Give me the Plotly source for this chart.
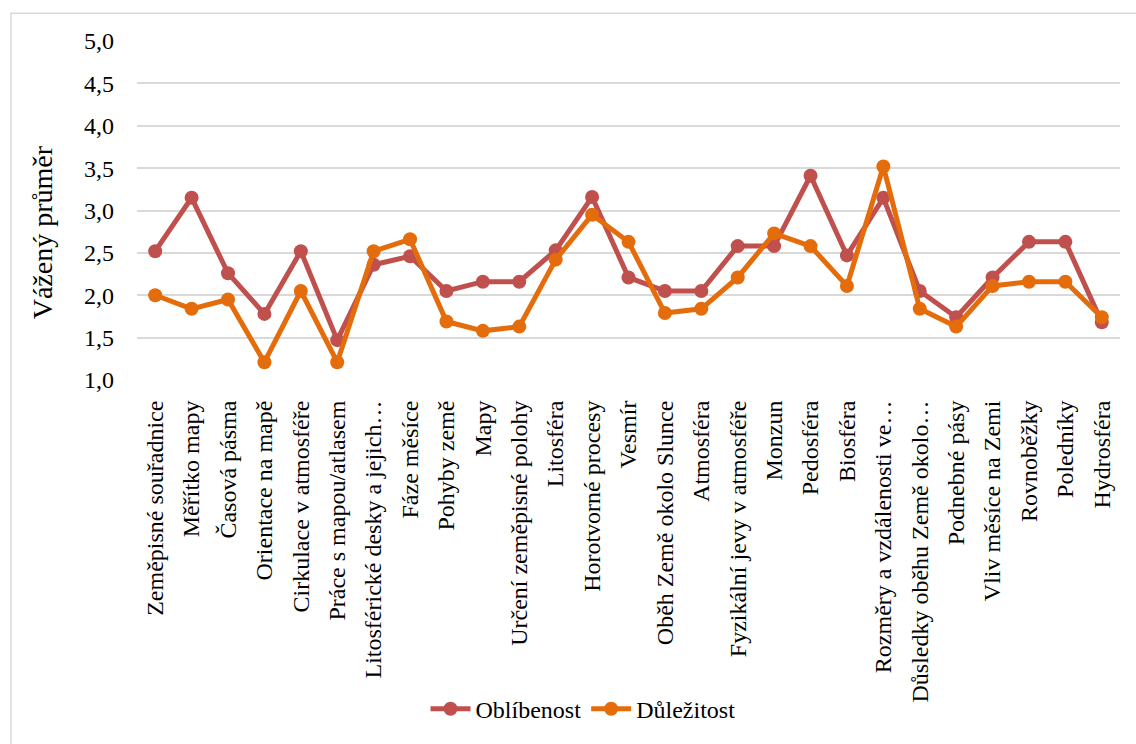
import plotly.graph_objects as go

categories = [
    "Zeměpisné souřadnice", "Měřítko mapy", "Časová pásma", "Orientace na mapě",
    "Cirkulace v atmosféře", "Práce s mapou/atlasem", "Litosférické desky a jejich…",
    "Fáze měsíce", "Pohyby země", "Mapy", "Určení zeměpisné polohy", "Litosféra",
    "Horotvorné procesy", "Vesmír", "Oběh Země okolo Slunce", "Atmosféra",
    "Fyzikální jevy v atmosféře", "Monzun", "Pedosféra", "Biosféra",
    "Rozměry a vzdálenosti ve…", "Důsledky oběhu Země okolo…", "Podnebné pásy",
    "Vliv měsíce na Zemi", "Rovnoběžky", "Poledníky", "Hydrosféra",
]

oblibenost = [
    2.52, 3.15, 2.26, 1.78, 2.52, 1.47, 2.36, 2.46, 2.05, 2.16, 2.16, 2.53, 3.16, 2.21,
    2.05, 2.05, 2.58, 2.58, 3.41, 2.47, 3.15, 2.05, 1.74, 2.21, 2.63, 2.63, 1.68,
]
dulezitost = [
    2.00, 1.84, 1.95, 1.21, 2.05, 1.21, 2.52, 2.66, 1.69, 1.58, 1.63, 2.42, 2.95, 2.63,
    1.79, 1.84, 2.21, 2.73, 2.58, 2.11, 3.52, 1.84, 1.63, 2.11, 2.16, 2.16, 1.74,
]

FONT = "Liberation Serif"
RED = "#C0504D"
ORANGE = "#E46C0A"

W, H = 1136, 744
ML, MR, MT, MB = 137, 16, 41, 361
PW, PH = W - ML - MR, H - MT - MB


def px_x(x):
    return (x - ML) / PW


def px_y(y):
    return (H - MB - y) / PH


fig = go.Figure()
fig.add_trace(go.Scatter(
    x=categories, y=oblibenost, name="Oblíbenost", mode="lines+markers",
    line=dict(color=RED, width=5), marker=dict(color=RED, size=14),
))
fig.add_trace(go.Scatter(
    x=categories, y=dulezitost, name="Důležitost", mode="lines+markers",
    line=dict(color=ORANGE, width=5), marker=dict(color=ORANGE, size=14),
))

fig.update_layout(
    width=W, height=H,
    margin=dict(l=ML, r=MR, t=MT, b=MB, pad=0),
    paper_bgcolor="white", plot_bgcolor="white",
    separators=", ",
    font=dict(family=FONT, size=24, color="black"),
    showlegend=True,
    legend=dict(
        orientation="h", x=px_x(583), y=px_y(715), xanchor="center", yanchor="middle",
        font=dict(family=FONT, size=24, color="black"), itemwidth=40,
        bgcolor="rgba(0,0,0,0)",
    ),
    xaxis=dict(
        type="category", tickangle=-90, showgrid=False, zeroline=False,
        showline=False, ticks="outside", ticklen=10, tickcolor="rgba(0,0,0,0)",
        tickfont=dict(family=FONT, size=24, color="black"),
        range=[-0.5, len(categories) - 0.5],
    ),
    yaxis=dict(
        range=[1, 5], dtick=0.5, tick0=1, tickformat=".1f",
        showgrid=True, gridcolor="#D9D9D9", gridwidth=1.5, zeroline=False,
        showline=False, ticks="", ticklabelstandoff=22,
        tickfont=dict(family=FONT, size=24, color="black"),
    ),
    annotations=[dict(
        text="Vážený průměr", xref="paper", yref="paper",
        x=px_x(42), y=px_y(234), xanchor="center", yanchor="middle",
        textangle=-90, showarrow=False,
        font=dict(family=FONT, size=28, color="black"),
    )],
    shapes=[dict(
        type="rect", xref="paper", yref="paper",
        x0=px_x(11), x1=px_x(1150), y0=px_y(13), y1=px_y(760),
        line=dict(color="#D9D9D9", width=1.5), fillcolor="rgba(0,0,0,0)", layer="below",
    )],
)

fig.write_html("out.html")
